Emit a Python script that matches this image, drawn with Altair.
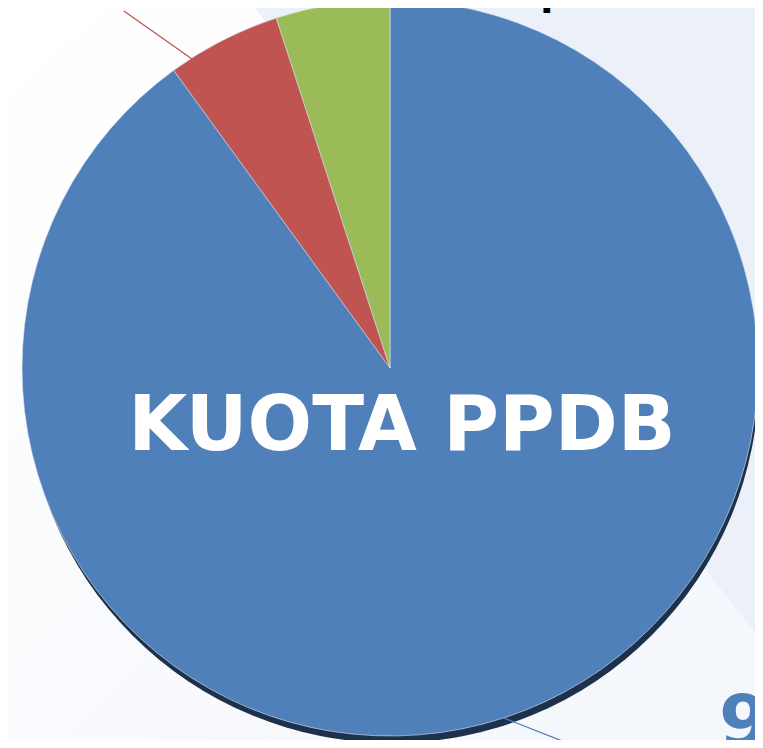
import math
import altair as alt
import pandas as pd

# ---- data ----
categories = ["Zonasi", "Prestasi", "Perpindahan Orang Tua"]
values = [90, 5, 5]
colors = ["#4f80ba", "#bf5450", "#9bbb59"]
label_texts = ["90%", "Prestasi 5%", "Perpindahan Orang Tua 5%"]
label_colors = ["#4f80ba", "#000000", "#000000"]
title_text = "KUOTA PPDB"

# ---- layout ----
W, H = 747, 732
CX, CY, R = 382, 360, 368
lead_r_in = [1.0, 0.97, 0.98]
lead_r_out = [1.155, 1.21, 1.0]
lead_start_delta = [0.0, -5.0, 2.6]    # degrees
lead_end_delta = [-8.6, -9.7, 7.1]     # degrees
label_pos = [(711, 738), (-200, -40), (460, -3)]
label_size = [72, 38, 38]

df = pd.DataFrame({"cat": categories, "value": values, "idx": range(len(values))})

# angles from data (clockwise from top, as Vega arcs)
total = sum(values)
starts, cum = [], 0
for v in values:
    starts.append(cum / total * 360)
    cum += v
mids = [s + v / total * 180 for s, v in zip(starts, values)]


def polar(deg, r):
    a = math.radians(deg)
    return CX + r * math.sin(a), CY - r * math.cos(a)


lines = []
for i, m in enumerate(mids):
    x1, y1 = polar(m + lead_start_delta[i], R * lead_r_in[i])
    x2, y2 = polar(m + lead_end_delta[i], R * lead_r_out[i])
    lines.append({"cat": categories[i], "x": x1, "y": y1, "x2": x2, "y2": y2})
lines_df = pd.DataFrame(lines)

labels_df = pd.DataFrame({
    "text": label_texts,
    "x": [p[0] for p in label_pos],
    "y": [p[1] for p in label_pos],
    "color": label_colors,
    "size": label_size,
})

# background band (diagonal lighter-blue region at top right)
band_df = pd.DataFrame({"x": [247, 760], "y": [0, 0], "y2": [0, 640]})

bg = alt.Chart(pd.DataFrame({"a": [0]})).mark_rect(
    color=alt.Gradient(
        gradient="linear",
        stops=[alt.GradientStop(color="#ffffff", offset=0),
               alt.GradientStop(color="#f3f6fb", offset=1)],
        x1=0, x2=1, y1=0, y2=1,
    )
).encode(x=alt.value(0), x2=alt.value(W), y=alt.value(0), y2=alt.value(H))

band = alt.Chart(band_df).mark_area(color="#ecf1f9", opacity=1).encode(
    x=alt.X("x:Q", scale=None),
    y=alt.Y("y:Q", scale=None),
    y2="y2:Q",
)

shadow = alt.Chart(pd.DataFrame({"a": [0]})).mark_arc(
    theta=0, theta2=2 * math.pi, color="#1e314c"
).encode(x=alt.value(CX + 2), y=alt.value(CY + 8), radius=alt.value(R - 1))

pie = alt.Chart(df).mark_arc(stroke="#dce6f2", strokeWidth=0.6).encode(
    theta=alt.Theta("value:Q", stack=True),
    order=alt.Order("idx:Q"),
    color=alt.Color("cat:N", scale=alt.Scale(domain=categories, range=colors), legend=None),
    x=alt.value(CX),
    y=alt.value(CY),
    radius=alt.value(R),
)

leaders = alt.Chart(lines_df).mark_rule(strokeWidth=1.3).encode(
    x=alt.X("x:Q", scale=None),
    y=alt.Y("y:Q", scale=None),
    x2="x2:Q",
    y2="y2:Q",
    color=alt.Color("cat:N", scale=alt.Scale(domain=categories, range=colors), legend=None),
)

labels = alt.Chart(labels_df).mark_text(
    font="DejaVu Sans", fontWeight="bold", align="left", baseline="alphabetic"
).encode(
    x=alt.X("x:Q", scale=None),
    y=alt.Y("y:Q", scale=None),
    text="text:N",
    color=alt.Color("color:N", scale=None),
    size=alt.Size("size:Q", scale=None),
)

title = alt.Chart(pd.DataFrame({"t": [title_text]})).mark_text(
    font="DejaVu Sans", fontWeight="bold", fontSize=76, color="white",
    align="center", baseline="middle"
).encode(x=alt.value(394), y=alt.value(419), text="t:N")

chart = alt.layer(bg, band, shadow, pie, leaders, labels, title).properties(
    width=W, height=H, autosize=alt.AutoSizeParams(type="none"), padding=0,
    background="#ffffff",
).configure_view(stroke=None)

chart.save("out.html", embed_options={"renderer": "svg", "actions": False})
